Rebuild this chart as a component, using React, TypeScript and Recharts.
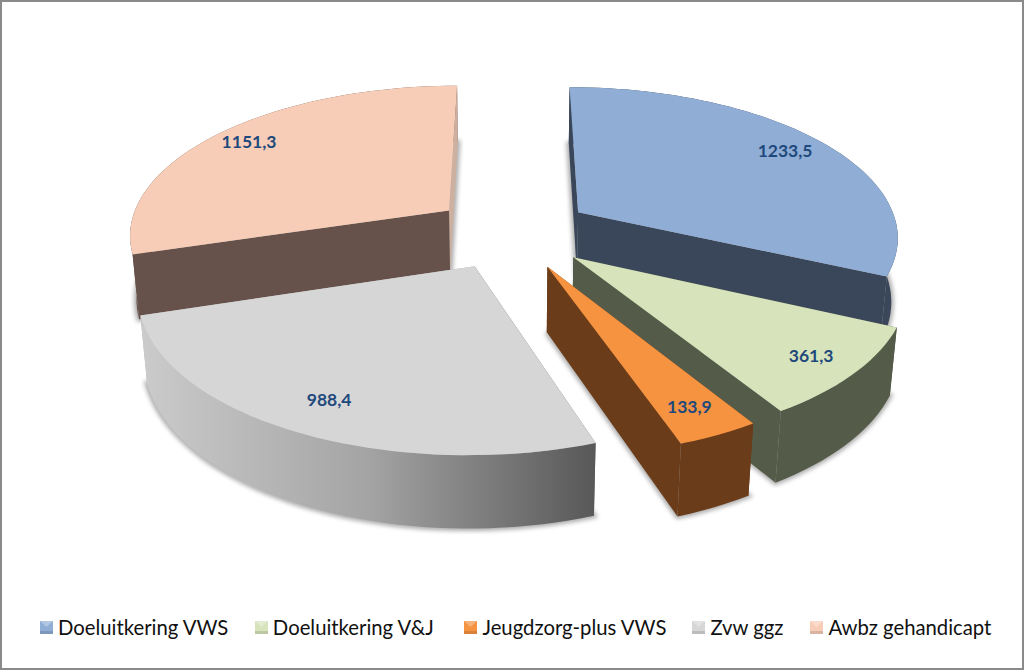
import React from "react";
import { PieChart, Pie, Legend } from "recharts";

const categories = ["Doeluitkering VWS", "Doeluitkering V&J", "Jeugdzorg-plus VWS", "Zvw ggz", "Awbz gehandicapt"];
const values = [1233.5, 361.3, 133.9, 988.4, 1151.3];
const valueLabels = ["1233,5", "361,3", "133,9", "988,4", "1151,3"];

const topColors = ["#90aed5", "#d6e3bb", "#f59341", "#d6d6d6", "#f7cdb7"];
const wallColors = ["#3a4659", "#555b49", "#6a3c19", "url(#grayWall)", "#66524a"];
const startWallColors = ["#3a4659", "#555b49", "#6a3c19", "#6a6a6a", "#66524a"];
const endWallColors = ["#3a4659", "#555b49", "#6a3c19", "#b5b5b5", "#cdb09f"];
const labelFractions = [0.85, 0.86, 0.85, 0.83, 0.87];
const legendGaps = [0, 26.5, 30.5, 26, 27];

// The drawing order puts the last category at the back, so the nearer slices paint over it.
const drawOrder = [4, 0, 1, 2, 3];
const total = values.reduce((a, b) => a + b, 0);
const pieData = drawOrder.map((i) => ({ name: categories[i], value: values[i], idx: i }));
const firstAngle = 90 + (values[4] / total) * 360;

const CX = 512;
const CY = 232;
const RADIUS = 321;
const EXPLODE = 80;
const TILT = 0.465;
const DEPTH = 65;
const PERSP = 2150;
const DROP_SHRINK = 0.017;

type P = [number, number];
const rad = (a: number) => (a * Math.PI) / 180;

function project(X: number, Y: number, Z: number): P {
  const s = 1 / (1 + Y / PERSP - DROP_SHRINK * Z);
  return [CX + X * s, CY - (TILT * Y + DEPTH * Z) * s];
}
const poly = (pts: P[]) => "M" + pts.map((p) => `${p[0].toFixed(1)},${p[1].toFixed(1)}`).join("L") + "Z";

function SliceShape(props: any) {
  const { startAngle, endAngle, outerRadius, payload } = props;
  const idx = payload?.idx ?? props.idx;
  const a0 = Math.max(startAngle, endAngle);
  const a1 = Math.min(startAngle, endAngle);
  const mid = (a0 + a1) / 2;
  const ox = EXPLODE * Math.cos(rad(mid));
  const oy = EXPLODE * Math.sin(rad(mid));
  const steps = Math.max(6, Math.round((a0 - a1) / 2));
  const world: P[] = [];
  for (let i = 0; i <= steps; i++) {
    const a = a0 + ((a1 - a0) * i) / steps;
    world.push([ox + outerRadius * Math.cos(rad(a)), oy + outerRadius * Math.sin(rad(a))]);
  }
  const top = world.map((w) => project(w[0], w[1], 0));
  const bottom = world.map((w) => project(w[0], w[1], -1));
  const apexTop = project(ox, oy, 0);
  const apexBottom = project(ox, oy, -1);
  const walls = [
    { d: poly([...top, ...bottom.slice().reverse()]), fill: wallColors[idx], depth: oy + outerRadius * Math.sin(rad(mid)) },
    { d: poly([apexTop, top[0], bottom[0], apexBottom]), fill: startWallColors[idx], depth: oy + (outerRadius * Math.sin(rad(a0))) / 2 },
    { d: poly([apexTop, top[steps], bottom[steps], apexBottom]), fill: endWallColors[idx], depth: oy + (outerRadius * Math.sin(rad(a1))) / 2 },
  ].sort((a, b) => b.depth - a.depth);
  return (
    <g>
      <path d={poly([apexBottom, ...bottom])} fill="#777" stroke="#777" strokeWidth={5} opacity={0.6} filter="url(#softShadow)" />
      {walls.map((w, i) => (
        <path key={i} d={w.d} fill={w.fill} />
      ))}
      <path d={poly([apexTop, ...top])} fill={topColors[idx]} />
    </g>
  );
}

function SliceLabel(props: any) {
  const { startAngle, endAngle, outerRadius, payload } = props;
  const idx = payload?.idx ?? props.idx;
  const mid = (startAngle + endAngle) / 2;
  const r = EXPLODE + outerRadius * labelFractions[idx];
  const [x, y] = project(r * Math.cos(rad(mid)), r * Math.sin(rad(mid)), 0);
  return (
    <text x={x} y={y} textAnchor="middle" dominantBaseline="central" fontFamily="Lato, sans-serif" fontWeight={700} fontSize={17.5} fill="#1f497d">
      {valueLabels[idx]}
    </text>
  );
}

function LegendContent() {
  return (
    <div style={{ display: "flex", paddingLeft: 40, fontFamily: "Lato, sans-serif", fontSize: 20.3, color: "#111", lineHeight: "24px", whiteSpace: "nowrap" }}>
      {categories.map((c, i) => (
        <div key={c} style={{ display: "flex", alignItems: "center", marginLeft: legendGaps[i] }}>
          <svg width={13} height={13} style={{ marginRight: 5 }}>
            <rect width={13} height={13} fill={topColors[i]} />
            <path d="M0,0L13,0L6.5,6Z" fill="#fff" opacity={0.3} />
            <path d="M0,13L13,13L13,10L0,10Z" fill="#000" opacity={0.12} />
          </svg>
          <span>{c}</span>
        </div>
      ))}
    </div>
  );
}

export default function App() {
  return (
    <div style={{ position: "absolute", left: 0, top: 0, width: 1024, height: 670, background: "#fff", overflow: "hidden" }}>
      <PieChart width={1024} height={670} margin={{ top: 0, right: 0, bottom: 0, left: 0 }}>
        <defs>
          <linearGradient id="grayWall" x1="0" y1="0" x2="1" y2="0">
            <stop offset="0" stopColor="#cbcbcb" />
            <stop offset="0.5" stopColor="#a4a4a4" />
            <stop offset="1" stopColor="#585858" />
          </linearGradient>
          <filter id="softShadow" x="-10%" y="-10%" width="120%" height="120%">
            <feGaussianBlur stdDeviation="2" />
          </filter>
        </defs>
        <Pie
          data={pieData}
          dataKey="value"
          nameKey="name"
          cx={CX}
          cy={CY}
          outerRadius={RADIUS}
          innerRadius={0}
          startAngle={firstAngle}
          endAngle={firstAngle - 360}
          stroke="none"
          isAnimationActive={false}
          shape={SliceShape}
          label={SliceLabel}
          labelLine={false}
        />
        <Legend content={LegendContent} wrapperStyle={{ left: 0, top: 615, width: 1024 }} />
      </PieChart>
      <div style={{ position: "absolute", inset: 0, boxSizing: "border-box", border: "2px solid #8a8a8a", pointerEvents: "none" }} />
    </div>
  );
}
